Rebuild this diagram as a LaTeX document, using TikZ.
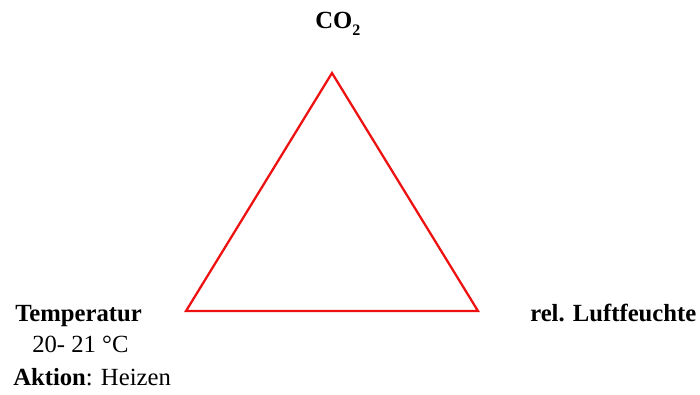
\documentclass[tikz,border=0pt]{standalone}
\usepackage{fontspec}
\setmainfont{Liberation Serif}
\usepackage{tikz}
\usetikzlibrary{positioning}
\definecolor{triRed}{HTML}{EE1111}
\tikzset{
  corner/.style={font=\fontsize{18.5}{21}\selectfont\bfseries, inner sep=0pt, anchor=base west},
  info/.style={font=\fontsize{18.5}{21}\selectfont, inner sep=0pt, anchor=base west},
  tri/.style={draw=triRed, line width=1.7pt, line join=miter},
}
\begin{document}
\begin{tikzpicture}[x=0.75pt, y=-0.75pt]
\useasboundingbox (0,0) rectangle (700,394);
% --- triangle corners
\coordinate (top) at (332,73);
\coordinate (left) at (186,311);
\coordinate (right) at (478,311);
\draw[tri] (top) -- (left) -- (right) -- cycle;
% --- labels
\node[corner] (co2) at (315,28) {CO\raisebox{-0.3em}{\fontsize{12}{14}\selectfont 2}};
\node[corner] (temp) at (15,321) {Temperatur};
\node[info] (range) at (32,352) {20- 21 °C};
\node[info] (action) at (13,385) {\textbf{Aktion}: Heizen};
\node[corner] (hum) at (530,321) {rel. Luftfeuchte};
\end{tikzpicture}
\end{document}
